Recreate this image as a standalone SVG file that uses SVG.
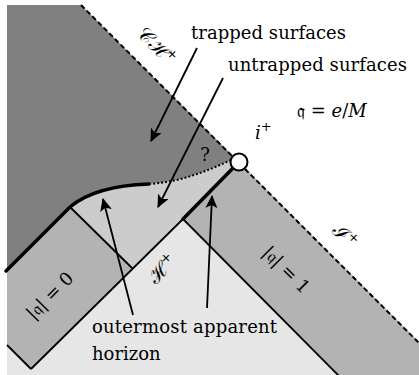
<svg xmlns="http://www.w3.org/2000/svg" width="419" height="375" viewBox="0 0 419 375">
<defs>
<style>
.t{font-family:"DejaVu Serif","Liberation Serif",serif;font-size:18px;fill:#000}
.s{font-size:20px}
.ln{stroke:#000;stroke-width:1.8;fill:none}
.thick{stroke:#000;stroke-width:3.5;fill:none;stroke-linecap:round}
.dash{stroke:#000;stroke-width:2;fill:none;stroke-dasharray:5 3}
.arr{stroke:#000;stroke-width:1.8;fill:none;marker-end:url(#ah)}
</style>
<marker id="ah" markerUnits="userSpaceOnUse" markerWidth="14" markerHeight="12" viewBox="0 0 14 12" refX="12" refY="6" orient="auto">
<path d="M0,0 L13,6 L0,12 L3,6 Z" fill="#000"/>
</marker>
<clipPath id="cp"><rect x="7" y="5" width="412" height="370"/></clipPath>
</defs>
<rect width="419" height="375" fill="#fff"/>
<g clip-path="url(#cp)">
<g id="exterior"><polygon points="7,270 7,375 419,375 419,342 239,162" fill="#e6e6e6"/></g>
<g id="trapped"><path d="M7,5 L81,5 L239,162 L231,160 C205,172 180,182 149,184 C120,185 90,190 70,207 L7,270 Z" fill="#808080"/></g>
<g id="untrapped"><path d="M70,207 C90,190 120,185 149,184 C180,182 205,172 231,160 L239,162 L132,268 Z" fill="#cccccc"/></g>
<g id="band0"><polygon points="70,207 132,268 31,369 7,345 7,270" fill="#b3b3b3"/></g>
<g id="band1"><polygon points="183,219 239,162 419,342 419,375 338,375" fill="#b3b3b3"/></g>
</g>
<g id="connectors">
<line class="ln" x1="70" y1="207" x2="132" y2="268"/>
<line class="ln" x1="7" y1="345" x2="31" y2="369"/>
<line class="ln" x1="31" y1="369" x2="183" y2="219"/>
<line class="ln" x1="183" y1="219" x2="339" y2="376"/>
<line class="thick" x1="183" y1="219" x2="239" y2="162"/>
<path class="thick" d="M6,271 L70,207 C90,190 120,185 149,184"/>
<path d="M149,184 C180,182 205,172 231,160" stroke="#000" stroke-width="2" fill="none" stroke-dasharray="2 2"/>
<line class="dash" x1="81" y1="5" x2="420" y2="344"/>
<line class="arr" x1="197" y1="48" x2="151" y2="141"/>
<line class="arr" x1="223" y1="78" x2="158" y2="207"/>
<line class="arr" x1="133" y1="315" x2="103" y2="199"/>
<line class="arr" x1="207" y1="308" x2="212" y2="196"/>
</g>
<g id="iplus"><circle cx="239" cy="162" r="8.5" fill="#fff" stroke="#000" stroke-width="2"/></g>
<g id="labels">
<text class="t" x="191" y="39" textLength="155">trapped surfaces</text>
<text class="t" x="228" y="71" textLength="179">untrapped surfaces</text>
<text class="t" x="297" y="117">𝔮 = <tspan font-style="italic">e</tspan>/<tspan font-style="italic">M</tspan></text>
<text class="t" x="255" y="139" font-style="italic">i<tspan font-style="normal" font-size="13" dy="-8">+</tspan></text>
<text class="t" x="205" y="161" font-size="15" text-anchor="middle">?</text>
<text class="t" x="92" y="333" textLength="185">outermost apparent</text>
<text class="t" x="92" y="360">horizon</text>
<text class="t" text-anchor="middle" transform="translate(54,300) rotate(-45)">|𝔮| = 0</text>
<text class="t" text-anchor="middle" transform="translate(282,274) rotate(45)">|𝔮| = 1</text>
<text class="t s" text-anchor="middle" transform="translate(167,274) rotate(-45)">ℋ<tspan font-size="13" dy="-8">+</tspan></text>
<text class="t s" text-anchor="middle" transform="translate(340,241) rotate(45)">ℐ<tspan font-size="13" dy="-8">+</tspan></text>
<text class="t s" text-anchor="middle" transform="translate(152,51) rotate(45)">𝒞ℋ<tspan font-size="13" dy="-8">+</tspan></text>
</g>
</svg>
